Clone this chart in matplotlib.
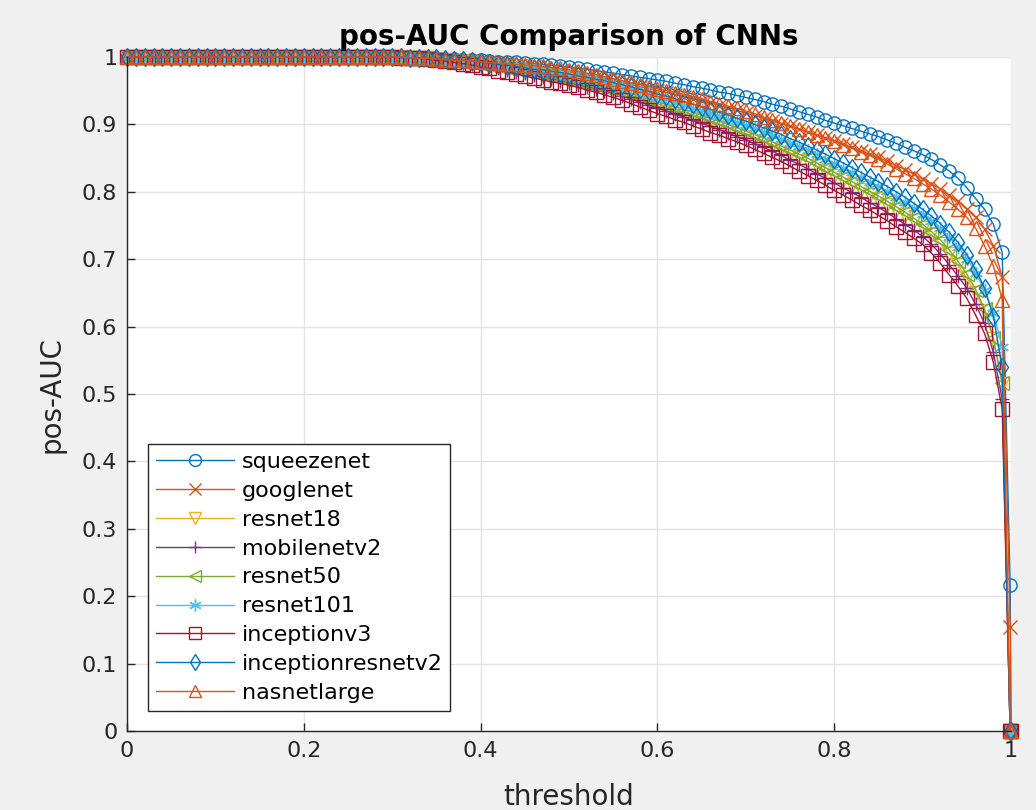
import matplotlib
matplotlib.use("Agg")
import matplotlib.pyplot as plt
from matplotlib.ticker import FuncFormatter

# umbrales (eje x)
thresholds = [
    0.00, 0.01, 0.02, 0.03, 0.04, 0.05, 0.06, 0.07, 0.08, 0.09,
    0.10, 0.11, 0.12, 0.13, 0.14, 0.15, 0.16, 0.17, 0.18, 0.19,
    0.20, 0.21, 0.22, 0.23, 0.24, 0.25, 0.26, 0.27, 0.28, 0.29,
    0.30, 0.31, 0.32, 0.33, 0.34, 0.35, 0.36, 0.37, 0.38, 0.39,
    0.40, 0.41, 0.42, 0.43, 0.44, 0.45, 0.46, 0.47, 0.48, 0.49,
    0.50, 0.51, 0.52, 0.53, 0.54, 0.55, 0.56, 0.57, 0.58, 0.59,
    0.60, 0.61, 0.62, 0.63, 0.64, 0.65, 0.66, 0.67, 0.68, 0.69,
    0.70, 0.71, 0.72, 0.73, 0.74, 0.75, 0.76, 0.77, 0.78, 0.79,
    0.80, 0.81, 0.82, 0.83, 0.84, 0.85, 0.86, 0.87, 0.88, 0.89,
    0.90, 0.91, 0.92, 0.93, 0.94, 0.95, 0.96, 0.97, 0.98, 0.99,
    0.999, 1.0,
]

# tramo plano inicial (0.00 - 0.29), igual para todas las redes
flat = [
    1.0, 1.0, 1.0, 1.0, 1.0, 1.0, 1.0, 1.0, 1.0, 1.0,
    1.0, 1.0, 1.0, 1.0, 1.0, 1.0, 1.0, 1.0, 1.0, 1.0,
    1.0, 1.0, 1.0, 1.0, 1.0, 1.0, 1.0, 1.0, 1.0, 1.0,
]

squeezenet = flat + [
    1.000, 1.000, 0.999, 0.999, 0.998, 0.998, 0.997, 0.997, 0.996, 0.995,
    0.995, 0.994, 0.993, 0.992, 0.992, 0.991, 0.990, 0.989, 0.988, 0.986,
    0.985, 0.983, 0.982, 0.980, 0.978, 0.976, 0.974, 0.972, 0.970, 0.968,
    0.966, 0.964, 0.961, 0.959, 0.956, 0.954, 0.951, 0.948, 0.946, 0.943,
    0.940, 0.937, 0.934, 0.930, 0.927, 0.923, 0.919, 0.915, 0.911, 0.906,
    0.902, 0.898, 0.894, 0.890, 0.886, 0.882, 0.877, 0.872, 0.866, 0.861,
    0.855, 0.848, 0.840, 0.831, 0.820, 0.806, 0.790, 0.774, 0.752, 0.710,
    0.217, 0.0,
]

googlenet = flat + [
    1.000, 1.000, 0.999, 0.999, 0.998, 0.997, 0.996, 0.996, 0.995, 0.994,
    0.993, 0.992, 0.991, 0.990, 0.988, 0.987, 0.986, 0.984, 0.982, 0.980,
    0.978, 0.976, 0.973, 0.971, 0.968, 0.965, 0.962, 0.959, 0.956, 0.953,
    0.950, 0.947, 0.944, 0.941, 0.938, 0.935, 0.932, 0.928, 0.925, 0.921,
    0.917, 0.913, 0.909, 0.905, 0.901, 0.897, 0.893, 0.889, 0.884, 0.880,
    0.876, 0.871, 0.866, 0.861, 0.856, 0.851, 0.845, 0.839, 0.833, 0.826,
    0.819, 0.812, 0.804, 0.795, 0.786, 0.775, 0.762, 0.745, 0.720, 0.674,
    0.155, 0.0,
]

resnet18 = flat + [
    1.000, 1.000, 0.999, 0.999, 0.998, 0.997, 0.996, 0.994, 0.993, 0.991,
    0.989, 0.987, 0.985, 0.983, 0.981, 0.979, 0.976, 0.974, 0.971, 0.969,
    0.966, 0.963, 0.960, 0.957, 0.954, 0.951, 0.947, 0.943, 0.939, 0.935,
    0.931, 0.927, 0.923, 0.918, 0.914, 0.910, 0.905, 0.900, 0.896, 0.891,
    0.886, 0.881, 0.875, 0.870, 0.864, 0.858, 0.852, 0.845, 0.838, 0.831,
    0.824, 0.817, 0.810, 0.803, 0.796, 0.789, 0.781, 0.773, 0.765, 0.756,
    0.747, 0.736, 0.723, 0.708, 0.691, 0.672, 0.650, 0.623, 0.582, 0.515,
    0.0, 0.0,
]

mobilenetv2 = flat + [
    1.000, 1.000, 0.999, 0.998, 0.997, 0.996, 0.995, 0.993, 0.991, 0.989,
    0.987, 0.985, 0.983, 0.981, 0.978, 0.976, 0.973, 0.970, 0.968, 0.965,
    0.962, 0.959, 0.956, 0.953, 0.949, 0.946, 0.942, 0.938, 0.933, 0.929,
    0.924, 0.920, 0.915, 0.911, 0.906, 0.902, 0.897, 0.892, 0.887, 0.882,
    0.877, 0.871, 0.866, 0.860, 0.854, 0.847, 0.841, 0.834, 0.827, 0.820,
    0.813, 0.806, 0.799, 0.792, 0.784, 0.777, 0.769, 0.760, 0.752, 0.743,
    0.734, 0.722, 0.708, 0.692, 0.675, 0.657, 0.633, 0.605, 0.562, 0.492,
    0.0, 0.0,
]

resnet50 = flat + [
    1.000, 1.000, 0.999, 0.999, 0.998, 0.997, 0.996, 0.995, 0.993, 0.992,
    0.990, 0.988, 0.986, 0.984, 0.982, 0.980, 0.978, 0.976, 0.973, 0.971,
    0.968, 0.965, 0.962, 0.959, 0.956, 0.953, 0.950, 0.946, 0.942, 0.938,
    0.934, 0.930, 0.926, 0.922, 0.918, 0.914, 0.909, 0.905, 0.900, 0.895,
    0.890, 0.885, 0.880, 0.874, 0.868, 0.862, 0.856, 0.850, 0.843, 0.836,
    0.829, 0.822, 0.815, 0.808, 0.801, 0.794, 0.786, 0.778, 0.770, 0.761,
    0.752, 0.741, 0.729, 0.714, 0.697, 0.678, 0.655, 0.626, 0.583, 0.516,
    0.0, 0.0,
]

resnet101 = flat + [
    1.000, 1.000, 0.999, 0.999, 0.998, 0.998, 0.997, 0.996, 0.994, 0.993,
    0.991, 0.990, 0.988, 0.986, 0.985, 0.983, 0.981, 0.979, 0.977, 0.975,
    0.972, 0.970, 0.967, 0.964, 0.961, 0.958, 0.955, 0.952, 0.948, 0.945,
    0.941, 0.937, 0.933, 0.929, 0.925, 0.921, 0.917, 0.913, 0.908, 0.904,
    0.899, 0.894, 0.889, 0.884, 0.879, 0.873, 0.868, 0.862, 0.856, 0.849,
    0.843, 0.836, 0.829, 0.822, 0.815, 0.808, 0.801, 0.793, 0.785, 0.776,
    0.767, 0.757, 0.746, 0.733, 0.718, 0.701, 0.680, 0.654, 0.620, 0.570,
    0.0, 0.0,
]

inceptionv3 = flat + [
    1.000, 0.999, 0.999, 0.998, 0.997, 0.995, 0.994, 0.992, 0.990, 0.988,
    0.985, 0.983, 0.980, 0.978, 0.975, 0.972, 0.969, 0.966, 0.963, 0.961,
    0.958, 0.955, 0.951, 0.948, 0.944, 0.940, 0.936, 0.931, 0.926, 0.921,
    0.916, 0.912, 0.907, 0.903, 0.898, 0.893, 0.888, 0.884, 0.879, 0.874,
    0.869, 0.863, 0.857, 0.851, 0.845, 0.838, 0.831, 0.824, 0.817, 0.810,
    0.802, 0.795, 0.788, 0.780, 0.773, 0.765, 0.757, 0.748, 0.740, 0.731,
    0.722, 0.709, 0.694, 0.677, 0.660, 0.642, 0.617, 0.590, 0.547, 0.478,
    0.0, 0.0,
]

inceptionresnetv2 = flat + [
    1.000, 1.000, 0.999, 0.999, 0.998, 0.998, 0.997, 0.996, 0.995, 0.994,
    0.992, 0.991, 0.989, 0.988, 0.986, 0.984, 0.982, 0.981, 0.979, 0.977,
    0.975, 0.972, 0.970, 0.967, 0.965, 0.962, 0.959, 0.956, 0.952, 0.949,
    0.945, 0.942, 0.938, 0.934, 0.930, 0.926, 0.922, 0.918, 0.914, 0.909,
    0.905, 0.900, 0.895, 0.890, 0.885, 0.879, 0.874, 0.868, 0.862, 0.856,
    0.849, 0.843, 0.836, 0.829, 0.822, 0.815, 0.808, 0.800, 0.792, 0.783,
    0.774, 0.764, 0.753, 0.740, 0.725, 0.707, 0.685, 0.657, 0.615, 0.540,
    0.0, 0.0,
]

nasnetlarge = flat + [
    1.000, 1.000, 0.999, 0.998, 0.998, 0.997, 0.996, 0.995, 0.995, 0.994,
    0.993, 0.992, 0.991, 0.990, 0.989, 0.988, 0.987, 0.986, 0.984, 0.983,
    0.981, 0.979, 0.976, 0.974, 0.971, 0.968, 0.965, 0.962, 0.959, 0.956,
    0.953, 0.950, 0.947, 0.944, 0.941, 0.938, 0.934, 0.931, 0.927, 0.924,
    0.920, 0.916, 0.911, 0.907, 0.902, 0.898, 0.893, 0.889, 0.884, 0.880,
    0.875, 0.870, 0.865, 0.859, 0.854, 0.848, 0.841, 0.834, 0.827, 0.820,
    0.812, 0.804, 0.795, 0.785, 0.774, 0.762, 0.746, 0.720, 0.690, 0.640,
    0.0, 0.0,
]

series = [
    ("squeezenet", squeezenet, "o", "#0072BD"),
    ("googlenet", googlenet, "x", "#D95319"),
    ("resnet18", resnet18, "v", "#EDB120"),
    ("mobilenetv2", mobilenetv2, "+", "#7E2F8E"),
    ("resnet50", resnet50, "<", "#77AC30"),
    ("resnet101", resnet101, (6, 2, 0), "#4DBEEE"),
    ("inceptionv3", inceptionv3, "s", "#A2142F"),
    ("inceptionresnetv2", inceptionresnetv2, "d", "#0072BD"),
    ("nasnetlarge", nasnetlarge, "^", "#D95319"),
]

plt.rcParams['font.family'] = ['DejaVu Sans']

fig = plt.figure(figsize=(10.36, 8.10), dpi=100, facecolor="#F0F0F0")
ax = fig.add_axes([0.1226, 0.0975, 0.8533, 0.8321])
ax.set_facecolor("white")

for name, vals, mk, col in series:
    ax.plot(thresholds, vals, color=col, marker=mk, markersize=9.5,
            markerfacecolor="none", markeredgewidth=1.0, linewidth=1.0,
            label=name, clip_on=False)

ax.set_xlim(0, 1)
ax.set_ylim(0, 1)
ax.set_xticks([0, 0.2, 0.4, 0.6, 0.8, 1])
ax.set_yticks([0, 0.1, 0.2, 0.3, 0.4, 0.5, 0.6, 0.7, 0.8, 0.9, 1])
ax.xaxis.set_major_formatter(FuncFormatter(lambda v, p: "%g" % round(v, 2)))
ax.yaxis.set_major_formatter(FuncFormatter(lambda v, p: "%g" % round(v, 2)))
ax.grid(True, color="#E3E3E3", linewidth=1)
ax.set_axisbelow(True)
ax.tick_params(direction="in", length=6, width=1, colors="#262626",
               labelsize=16, top=False, right=False)
ax.tick_params(axis="x", pad=7)
ax.tick_params(axis="y", pad=7)
for s in ["top", "right"]:
    ax.spines[s].set_visible(False)
for s in ["left", "bottom"]:
    ax.spines[s].set_color("#262626")
    ax.spines[s].set_linewidth(1)

ax.set_title("pos-AUC Comparison of CNNs", fontsize=20, fontweight="bold", pad=9)
ax.set_xlabel("threshold", fontsize=20, color="#262626", labelpad=16)
ax.set_ylabel("pos-AUC", fontsize=20, color="#262626", labelpad=12)

leg = ax.legend(loc="lower left", bbox_to_anchor=(0.024, 0.03), borderaxespad=0,
                fontsize=16, handlelength=3.5, fancybox=False, framealpha=1,
                edgecolor="#262626", labelspacing=0.40, borderpad=0.35,
                handletextpad=0.35, markerscale=0.9)
leg.get_frame().set_linewidth(1)

fig.savefig("out.png", dpi=100, facecolor=fig.get_facecolor())
